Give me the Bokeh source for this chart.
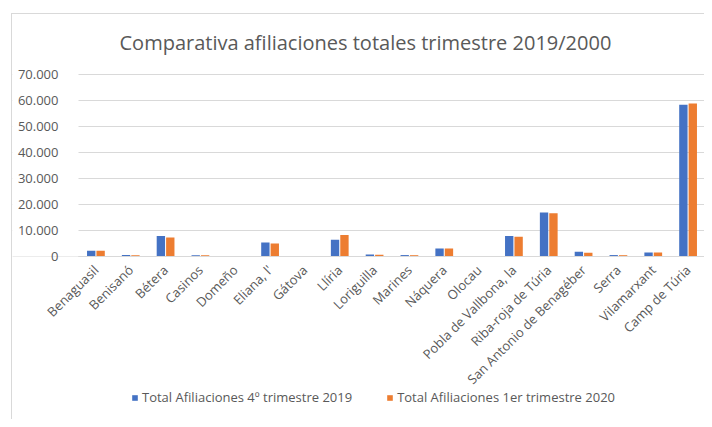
import math
from bokeh.plotting import figure
from bokeh.models import ColumnDataSource, Range1d, FixedTicker, Legend, LegendItem, BoxAnnotation
from bokeh.transform import dodge
from bokeh.embed import file_html
from bokeh.resources import INLINE

municipios = ["Benaguasil", "Benisanó", "Bétera", "Casinos", "Domeño", "Eliana, l'",
              "Gátova", "Llíria", "Loriguilla", "Marines", "Náquera", "Olocau",
              "Pobla de Vallbona, la", "Riba-roja de Túria", "San Antonio de Benagéber",
              "Serra", "Vilamarxant", "Camp de Túria"]
afil_4t_2019 = [2200, 550, 7900, 500, 100, 5400, 100, 6400, 800, 550, 3100, 150,
                7900, 16900, 1800, 550, 1500, 58400]
afil_1t_2020 = [2250, 500, 7300, 450, 100, 5000, 100, 8300, 700, 500, 3100, 150,
                7600, 16600, 1450, 500, 1500, 58800]
serie_names = ["Total Afiliaciones 4º trimestre 2019", "Total Afiliaciones 1er trimestre 2020"]
y_ticks = [0, 10000, 20000, 30000, 40000, 50000, 60000, 70000]

def fmt(v):
    return "{:,}".format(v).replace(",", ".")

idx = list(range(len(municipios)))
src = ColumnDataSource(dict(x=idx, cat=municipios, a=afil_4t_2019, b=afil_1t_2020))

TXT = "#595959"
FONT = "Open Sans"

n = len(municipios)
# frame: 52px from top to 406 (354px); 182px per 70000 units
upp = 70000 / 182
y_top = 70000 + 8 * upp
y_bottom = y_top - 354 * upp
# frame 693px wide; category band (627px) on the right, label room on the left
x_end = n - 0.5
x_start = -0.5 - 66 / (627 / n)

p = figure(width=693, height=406, x_range=Range1d(x_start, x_end),
           y_range=Range1d(y_bottom, y_top), output_backend="svg", toolbar_location=None,
           min_border_left=0, min_border_right=0, min_border_top=52, min_border_bottom=0)
p.margin = (13, 0, 0, 11)
p.styles = {"border-left": "1px solid #d9d9d9", "border-top": "1px solid #d9d9d9"}

p.title.text = "Comparativa afiliaciones totales trimestre 2019/2000"
p.title.align = "left"
p.title.offset = 107
p.title.text_font = FONT
p.title.text_font_size = "20px"
p.title.text_font_style = "normal"
p.title.text_color = TXT
p.title.vertical_align = "top"
p.title.standoff = 17

p.outline_line_color = None
p.xgrid.grid_line_color = None
p.ygrid.grid_line_color = "#d9d9d9"
p.ygrid.ticker = FixedTicker(ticks=y_ticks)

# mask grid lines left of the category area (behind the y labels)
mask = BoxAnnotation(right=-0.5, bottom=0, fill_color="white", fill_alpha=1,
                     line_color=None, level="underlay")
p.add_layout(mask)

r1 = p.vbar(x=dodge("x", -0.135), top="a", width=0.24, source=src,
            fill_color="#4472C4", line_color=None)
r2 = p.vbar(x=dodge("x", 0.135), top="b", width=0.24, source=src,
            fill_color="#ED7D31", line_color=None)

p.yaxis.fixed_location = -0.5
p.yaxis.ticker = FixedTicker(ticks=y_ticks)
p.yaxis.major_label_overrides = {t: fmt(t) for t in y_ticks}
p.yaxis.axis_line_color = None
p.yaxis.major_tick_line_color = None
p.yaxis.minor_tick_line_color = None
p.yaxis.major_label_text_font = FONT
p.yaxis.major_label_text_font_size = "13px"
p.yaxis.major_label_text_color = TXT
p.yaxis.major_label_standoff = 14

p.xaxis.fixed_location = 0
p.xaxis.bounds = (-0.5, n - 0.5)
p.xaxis.ticker = FixedTicker(ticks=idx)
p.xaxis.major_label_overrides = {i: m for i, m in zip(idx, municipios)}
p.xaxis.axis_line_color = "#d9d9d9"
p.xaxis.major_tick_line_color = None
p.xaxis.minor_tick_line_color = None
p.xaxis.major_label_orientation = math.pi / 4
p.xaxis.major_label_text_font = FONT
p.xaxis.major_label_text_font_size = "13px"
p.xaxis.major_label_text_color = TXT
p.xaxis.major_label_standoff = 5

legend = Legend(items=[LegendItem(label=serie_names[0], renderers=[r1]),
                       LegendItem(label=serie_names[1], renderers=[r2])],
                orientation="horizontal", location=(119, 14))
legend.label_text_font = FONT
legend.label_text_font_size = "13px"
legend.label_text_color = TXT
legend.glyph_width = 7
legend.glyph_height = 7
legend.label_standoff = 4
legend.spacing = 34
legend.border_line_color = None
legend.background_fill_alpha = 0
legend.padding = 4
legend.margin = 0
p.add_layout(legend, "center")

open("out.html", "w").write(file_html(p, INLINE))
